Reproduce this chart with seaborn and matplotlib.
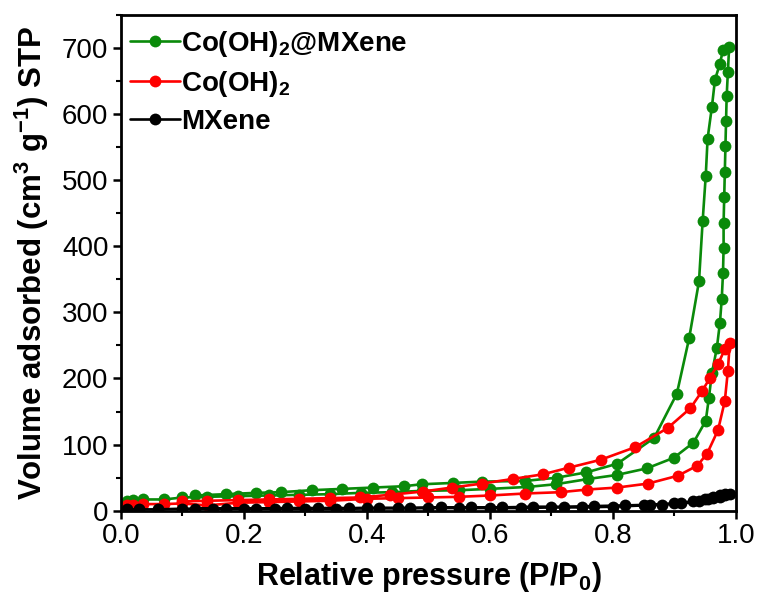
import numpy as np
import pandas as pd
import matplotlib
matplotlib.use("Agg")
import matplotlib.pyplot as plt
from matplotlib.lines import Line2D
from matplotlib.ticker import MultipleLocator
import seaborn as sns

# ---- data ----
# Co(OH)2@MXene
green_ads_p = [0.01, 0.02, 0.035, 0.07, 0.10, 0.14, 0.19, 0.24, 0.29, 0.34, 0.39, 0.44, 0.49, 0.55, 0.60,
               0.662, 0.707, 0.760, 0.806, 0.855, 0.899, 0.931, 0.951, 0.956, 0.961,
               0.969, 0.974, 0.977, 0.979, 0.980, 0.980, 0.981, 0.982, 0.983, 0.984, 0.985, 0.987, 0.989]
green_ads_v = [14, 16, 17, 17, 20, 21, 22, 23, 24, 25, 27, 28, 30, 31, 33,
               36, 40, 48, 54, 64, 80, 103, 136, 170, 208,
               246, 284, 320, 359, 397, 436, 474, 513, 551, 590, 627, 664, 701]
green_des_p = [0.979, 0.974, 0.966, 0.961, 0.954, 0.951, 0.946, 0.940, 0.924, 0.904, 0.867, 0.807, 0.757,
               0.709, 0.657, 0.587, 0.540, 0.489, 0.46, 0.41, 0.36, 0.31, 0.26, 0.22, 0.17, 0.12]
green_des_v = [697, 676, 652, 611, 563, 507, 439, 347, 261, 177, 110, 71, 58,
               50, 45, 44, 42, 40, 37, 35, 33, 31, 28, 27, 25, 23]

# Co(OH)2
red_ads_p = [0.01, 0.02, 0.035, 0.07, 0.10, 0.14, 0.19, 0.24, 0.29, 0.34, 0.40, 0.45, 0.50, 0.55, 0.60,
             0.657, 0.715, 0.758, 0.807, 0.857, 0.906, 0.937, 0.953, 0.971, 0.982, 0.987, 0.990]
red_ads_v = [8, 9, 10, 10, 11, 8, 12, 13, 14, 15, 18, 19, 20, 21, 23,
             26, 28, 32, 35, 41, 53, 68, 86, 122, 166, 212, 254]
red_des_p = [0.982, 0.971, 0.958, 0.945, 0.926, 0.889, 0.836, 0.780, 0.728, 0.686, 0.637, 0.587, 0.538,
             0.491, 0.437, 0.389, 0.34, 0.29, 0.24, 0.19, 0.14, 0.10]
red_des_v = [244, 222, 201, 181, 155, 125, 96, 77, 65, 55, 48, 41, 35,
             29, 24, 20, 19, 18, 17, 16, 15, 14]

# MXene
black_ads_p = [0.01, 0.03, 0.06, 0.10, 0.15, 0.20, 0.25, 0.30, 0.35, 0.40, 0.45, 0.50, 0.55, 0.60, 0.65,
               0.70, 0.75, 0.80, 0.85, 0.88, 0.91, 0.94, 0.954, 0.963, 0.974, 0.982, 0.990]
black_ads_v = [2, 2, 2, 3, 3, 3, 3, 3, 3, 4, 4, 4, 4, 4, 4,
               5, 5, 6, 8, 9, 11, 14, 17, 19, 21, 24, 26]
black_des_p = [0.982, 0.974, 0.963, 0.95, 0.93, 0.90, 0.86, 0.82, 0.77, 0.72, 0.67, 0.62, 0.57, 0.52,
               0.47, 0.42, 0.37, 0.32, 0.27, 0.22, 0.17, 0.12]
black_des_v = [25, 23, 20, 17, 14, 11, 9, 8, 7, 6, 6, 5, 5, 5,
               4, 4, 4, 4, 4, 3, 3, 3]

labels = ["Co(OH)$_2$@MXene", "Co(OH)$_2$", "MXene"]
colors = ["#0a8a0a", "#ff0000", "#000000"]

x_ticks = [0.0, 0.2, 0.4, 0.6, 0.8, 1.0]
y_ticks = [0, 100, 200, 300, 400, 500, 600, 700]

# ---- style ----
sns.set_style("ticks")
plt.rcParams["font.family"] = ["Liberation Sans", "DejaVu Sans"]
plt.rcParams["mathtext.fontset"] = "custom"
plt.rcParams["mathtext.rm"] = "Liberation Sans:bold"
plt.rcParams["mathtext.it"] = "Liberation Sans:bold"
plt.rcParams["mathtext.bf"] = "Liberation Sans:bold"
plt.rcParams["text.color"] = "black"
plt.rcParams["axes.labelcolor"] = "black"
plt.rcParams["xtick.color"] = "black"
plt.rcParams["ytick.color"] = "black"

fig = plt.figure(figsize=(7.61, 5.98), dpi=100)
ax = fig.add_axes([0.159, 0.146, 0.808, 0.829])

MS = 8.5
LW = 1.9
series = [
    (labels[0], green_ads_p + green_des_p, green_ads_v + green_des_v),
    (labels[1], red_ads_p + red_des_p, red_ads_v + red_des_v),
    (labels[2], black_ads_p + black_des_p, black_ads_v + black_des_v),
]
for (lab, p, v), c in zip(series, colors):
    df = pd.DataFrame({"P": p, "V": v})
    sns.lineplot(data=df, x="P", y="V", sort=False, estimator=None, color=c,
                 marker="o", markersize=MS, markeredgewidth=0, linewidth=LW, ax=ax)

ax.set_xlim(0, 1.0)
ax.set_ylim(0, 750)
ax.set_xticks(x_ticks)
ax.set_xticklabels([f"{t:.1f}" for t in x_ticks])
ax.set_yticks(y_ticks)
ax.set_yticklabels([str(t) for t in y_ticks])
ax.xaxis.set_minor_locator(MultipleLocator(0.1))
ax.yaxis.set_minor_locator(MultipleLocator(50))
ax.tick_params(axis="both", which="major", direction="out", length=6, width=1.8,
               labelsize=20, colors="black", labelcolor="black", pad=3)
ax.tick_params(axis="both", which="minor", direction="out", length=3.5, width=1.5, colors="black")
for s in ax.spines.values():
    s.set_linewidth(2.0)
    s.set_color("black")

ax.set_xlabel("Relative pressure (P/P$_0$)", fontsize=22, fontweight="bold", labelpad=8, color="black")
ax.set_ylabel("Volume adsorbed (cm$^3$ g$^{-1}$) STP", fontsize=22.5, fontweight="bold", labelpad=8, color="black")

handles = [Line2D([0], [0], color=c, marker="o", markersize=MS, markeredgewidth=0, linewidth=LW)
           for c in colors]
leg = ax.legend(handles, labels, loc="upper left", bbox_to_anchor=(-0.008, 1.0), frameon=False,
                prop={"size": 20, "weight": "bold"}, handlelength=1.8, handletextpad=0.05,
                labelspacing=0.36, borderaxespad=0.2, borderpad=0.3)
for t in leg.get_texts():
    t.set_color("black")

fig.savefig("out.png", dpi=100)
